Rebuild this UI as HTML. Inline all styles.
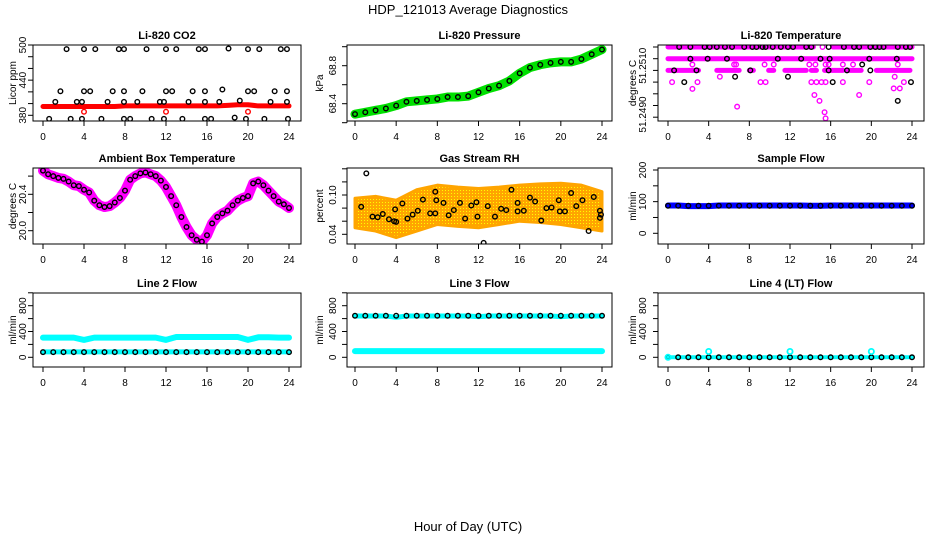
<!DOCTYPE html>
<html><head><meta charset="utf-8"><style>
html,body{margin:0;padding:0;background:#fff;}
svg{display:block;font-family:"Liberation Sans",Arial,sans-serif;}
</style></head><body>
<svg id="chart" width="936" height="540" viewBox="0 0 936 540" xmlns="http://www.w3.org/2000/svg">
<defs>
<pattern id="rhpat" width="3" height="3" patternUnits="userSpaceOnUse"><rect width="3" height="3" fill="#ffa500"/><rect x="1" y="1" width="1" height="1" fill="#ffff00"/></pattern>
</defs>
<text x="468" y="14" font-size="13" text-anchor="middle">HDP_121013  Average Diagnostics</text>
<text x="468" y="531" font-size="13" text-anchor="middle">Hour of Day (UTC)</text>
</svg>
<script>
// ---------- data ----------
const xTicks = [0,4,8,12,16,20,24];
const hourly = [0,1,2,3,4,5,6,7,8,9,10,11,12,13,14,15,16,17,18,19,20,21,22,23,24];

const co2Band = [395,395,395,395,395,395,395,395,396,396,396,396,396,396,396,396,396,396,397,398,398,396,396,396,396];
const co2CircH = [2.3,4,5.1,7.4,7.9,10.1,12,13,15.2,15.8,18.1,20,21.1,23.2,23.8, 1.7,4,4.6,6.8,7.9,9.7,12,12.6,14.6,15.8,17.5,20,20.6,22.6,23.8, 1.2,3.3,3.8,6.3,7.9,9.2,11.4,11.8,14.2,15.8,17.2,19.2,22.2,23.8, 0.6,2.7,3.8,5.7,7.9,8.5,10.6,11.8,13.6,15.8,16.4,18.7,19.8,21.6,23.9];
const co2CircV = [493,493,493,493,493,493,493,493,493,493,494,493,493,493,493, 421,421,421,421,421,421,421,421,421,421,424,421,421,421,421, 403,403,403,403,403,403,403,403,403,403,403,405,403,403, 374,374,374,374,374,374,374,374,374,374,374,376,374,374,374];
const co2RedH = [4,12,20];
const co2RedV = [386,386,386];

const presBand = [68.29,68.31,68.33,68.35,68.38,68.42,68.43,68.44,68.45,68.47,68.47,68.48,68.52,68.56,68.59,68.64,68.72,68.78,68.81,68.83,68.84,68.84,68.87,68.92,68.97];

const tempSegStart = [0,16.2,0,0,4.8,8,9.9,11.5,14.1,15.4,17.6,20.5];
const tempSegEnd   = [14.3,24,24,3,7,8.4,10.4,13.6,14.6,17.2,19,23.8];
const tempSegVal   = [51.2515,51.2515,51.2510,51.2505,51.2505,51.2505,51.2505,51.2505,51.2505,51.2505,51.2505,51.2505];
const tempMagH = [0.4,2.9,9.1,9.6,14.1,14.6,15.1,15.5,17.2,19.8,23.2, 2.4,14.4,18.8,14.9,6.8,15.4,15.5,22.2,22.8,5.1,22.3, 2.4,6.5,6.7,9.5,10.4,13.9,14.5,15.5,15.8,17.2,18.2,22.6,15.2];
const tempMagV = [51.25,51.25,51.25,51.25,51.25,51.25,51.25,51.25,51.25,51.25,51.25, 51.24971,51.24945,51.24945,51.2492,51.24895,51.24871,51.24845,51.24973,51.24973,51.25023,51.25023, 51.25075,51.25075,51.25075,51.25075,51.25075,51.25075,51.25075,51.25075,51.25075,51.25075,51.25075,51.25075,51.2515];
const tempBlkH = [1.6,16.2,23.9, 0.6,2.8,8.1,15.8,17.6,19.9, 2.2,3.9,5.8,10.8,13.1,15,15.9,19.8,22.5, 1.1,2.2,3.6,4.1,4.8,5.6,6.3,7.5,8.3,8.7,9.3,9.6,10.3,11.1,11.8,12.3,13.6,14.1,15.8,17.3,18.3,18.8,19.9,20.4,20.8,21.2,22.6,23.4,23.8, 19.1,6.6,11.8,22.6];
const tempBlkV = [51.25,51.25,51.25, 51.2505,51.2505,51.2505,51.2505,51.2505,51.2505, 51.251,51.251,51.251,51.251,51.251,51.251,51.251,51.251,51.251, 51.2515,51.2515,51.2515,51.2515,51.2515,51.2515,51.2515,51.2515,51.2515,51.2515,51.2515,51.2515,51.2515,51.2515,51.2515,51.2515,51.2515,51.2515,51.2515,51.2515,51.2515,51.2515,51.2515,51.2515,51.2515,51.2515,51.2515,51.2515,51.2515, 51.25075,51.25023,51.25023,51.2492];

const ambH = [0,0.5,1,1.5,2,2.5,3,3.5,4,4.5,5,5.5,6,6.5,7,7.5,8,8.5,9,9.5,10,10.5,11,11.5,12,12.5,13,13.5,14,14.5,15,15.5,16,16.5,17,17.5,18,18.5,19,19.5,20,20.5,21,21.5,22,22.5,23,23.5,24];
const ambV = [20.66,20.62,20.60,20.58,20.57,20.54,20.50,20.49,20.45,20.42,20.33,20.28,20.26,20.27,20.31,20.36,20.44,20.56,20.60,20.63,20.64,20.62,20.60,20.55,20.48,20.38,20.28,20.15,20.04,19.95,19.90,19.88,19.95,20.08,20.15,20.19,20.22,20.28,20.33,20.36,20.38,20.52,20.54,20.50,20.44,20.38,20.32,20.29,20.25];

const rhEnvH = [0,2,4,6,8,10,12,14,16,18,20,22,24];
const rhUpper = [0.095,0.098,0.092,0.108,0.115,0.112,0.110,0.112,0.115,0.117,0.118,0.115,0.105];
const rhLower = [0.050,0.045,0.035,0.045,0.055,0.052,0.050,0.055,0.060,0.058,0.055,0.050,0.045];
const rhH = [0.6,1.1,1.7,2.2,2.7,3.3,3.8,3.9,4,4.6,5.1,5.6,6.1,6.6,7.3,7.8,7.8,7.9,8.6,9.1,9.6,10.2,10.7,11.3,11.8,11.9,12.5,12.9,13.6,14.2,14.7,15.2,15.8,15.8,16.4,17,17.5,18.1,18.6,19.1,19.8,19.9,20.4,21,21.5,22.1,22.7,23.2,23.8,23.9,23.8];
const rhV = [0.082,0.133,0.067,0.066,0.071,0.063,0.060,0.078,0.059,0.087,0.064,0.070,0.076,0.093,0.072,0.072,0.105,0.092,0.088,0.069,0.077,0.088,0.064,0.084,0.089,0.067,0.027,0.083,0.067,0.079,0.077,0.108,0.088,0.075,0.076,0.096,0.090,0.061,0.080,0.081,0.092,0.075,0.075,0.103,0.083,0.092,0.045,0.097,0.076,0.070,0.065];

const sampleBand = [88,88,86,86,86,88,88,88,88,88,88,88,88,88,87,87,88,88,88,88,88,88,88,88,88];
const sampleCirc = [87,87,87,87,87,87,87,87,87,87,87,87,87,87,87,87,87,87,87,87,87,87,87,87,87];

const l2Upper = [305,305,305,305,270,305,305,305,305,305,305,305,270,315,315,315,315,315,315,315,270,310,310,305,305];
const l2Lower = [85,85,85,85,85,85,85,85,85,85,85,85,85,85,85,85,85,85,85,85,85,85,85,85,85];
const l2Circ = [80,80,80,80,80,80,80,80,80,80,80,80,80,80,80,80,80,80,80,80,80,80,80,80,80];

const l3Upper = [640,640,640,640,620,640,640,640,640,640,640,640,630,640,640,640,640,640,640,640,630,640,640,640,640];
const l3Lower = [95,95,95,95,95,95,95,95,95,95,95,95,95,95,95,95,95,95,95,95,95,95,95,95,95];
const l3Circ = [645,645,645,645,645,645,645,645,645,645,645,645,645,645,645,645,645,645,645,645,645,645,645,645,645];

const l4Band = [0,0,0,0,0,0,0,0,0,0,0,0,0,0,0,0,0,0,0,0,0,0,0,0,0];
const l4SpikeH = [0,4,12,20];
const l4SpikeV = [0,90,90,90];

// ---------- layout ----------
const NS = 'http://www.w3.org/2000/svg';
const svg = document.getElementById('chart');
const cols = [[33,301,43,289],[347,612,355,602],[658,924,668,912]];
const rows = [[45,121],[168,244],[293,367]];
const ylabX = [12,319,632];
const ytlX = [22,332,642];

function mk(tag, attrs){ const e=document.createElementNS(NS,tag); for(const k in attrs) e.setAttribute(k,attrs[k]); return e; }

function makePanel(id, c, r, title, ylab, va, pa, vb, pb, yt, ylabels){
  const g = mk('g',{});
  
  
  svg.appendChild(g);
  const [bx0,bx1,x0,x24]=cols[c]; const [by0,by1]=rows[r];
  const p = {g, bx0,bx1,by0,by1,
    x: h => x0 + (x24-x0)*h/24,
    y: v => pa + (pb-pa)*(v-va)/(vb-va)};
  const t = mk('text',{x:(bx0+bx1)/2, y:by0-6, 'font-size':11,'font-weight':'bold','text-anchor':'middle'});
  t.textContent = title;
  
  
  g.appendChild(t);
  const yl = mk('text',{x:0,y:0,'font-size':10,'text-anchor':'middle',transform:`translate(${ylabX[c]+4},${(by0+by1)/2}) rotate(-90)`});
  yl.textContent = ylab;
  
  
  g.appendChild(yl);
  const xa = mk('g',{stroke:'#000','stroke-width':1});
  
  
  g.appendChild(xa);
  xa.appendChild(mk('line',{x1:p.x(xTicks[0]),x2:p.x(xTicks[xTicks.length-1]),y1:by1,y2:by1}));
  xTicks.forEach(v=>{
    xa.appendChild(mk('line',{x1:p.x(v),x2:p.x(v),y1:by1,y2:by1+5}));
    const tl = mk('text',{x:p.x(v),y:by1+19,'font-size':10,'text-anchor':'middle',stroke:'none'});
    tl.textContent = v;
    
    
    xa.appendChild(tl);
  });
  const ya = mk('g',{stroke:'#000','stroke-width':1});
  
  
  g.appendChild(ya);
  ya.appendChild(mk('line',{x1:bx0,x2:bx0,y1:p.y(yt[0]),y2:p.y(yt[yt.length-1])}));
  yt.forEach(v=>{ ya.appendChild(mk('line',{x1:bx0-5,x2:bx0,y1:p.y(v),y2:p.y(v)})); });
  ylabels.forEach(([v,s,off])=>{
    const tl = mk('text',{x:0,y:0,'font-size':10,'text-anchor':'middle',stroke:'none',transform:`translate(${ytlX[c]+4},${p.y(v)+(off||0)}) rotate(-90)`});
    tl.textContent = s;
    
    
    ya.appendChild(tl);
  });
  const clip = mk('clipPath',{id:id+'-clip'});
  clip.appendChild(mk('rect',{x:bx0,y:by0,width:bx1-bx0,height:by1-by0}));
  svg.querySelector('defs').appendChild(clip);
  p.plot = mk('g',{'clip-path':`url(#${id}-clip)`});
  
  
  g.appendChild(p.plot);
  p.finish = ()=>{
    const b = mk('rect',{x:bx0,y:by0,width:bx1-bx0,height:by1-by0,fill:'none',stroke:'#000','stroke-width':1});
    
    
    g.appendChild(b);
  };
  return p;
}

function band(p, hs, vs, color, w, name){
  const pl = mk('polyline',{points:hs.map((h,i)=>p.x(h)+','+p.y(vs[i])).join(' '),fill:'none',stroke:color,'stroke-width':w,'stroke-linecap':'round','stroke-linejoin':'round'});
  
  
  p.plot.appendChild(pl);
}
function circles(p, hs, vs, color, name, r, sw){
  const gg = mk('g',{fill:'none',stroke:color,'stroke-width':sw||1.4});
  
  
  p.plot.appendChild(gg);
  hs.forEach((h,i)=>{
    const c = mk('circle',{cx:p.x(h),cy:p.y(vs[i]),r:r||2.3});
    
    
    gg.appendChild(c);
  });
}

let p = makePanel('co2',0,0,'Li-820 CO2','Licor ppm',380,115.3,500,45,[380,400,420,440,460,480,500],[[380,'380'],[440,'440'],[500,'500']]);
band(p,hourly,co2Band,'#ff0000',5,'co2-red-series');
circles(p,co2CircH,co2CircV,'#000','co2-black-series');
circles(p,co2RedH,co2RedV,'#ff0000','co2-red-points');
p.finish();

p = makePanel('pressure',1,0,'Li-820 Pressure','kPa',68.4,103.7,68.8,65.7,[68.2,68.4,68.6,68.8,69.0],[[68.4,'68.4'],[68.8,'68.8']]);
band(p,hourly,presBand,'#00e000',9,'pressure-green-series');
circles(p,hourly,presBand,'#000','pressure-black-series');
p.finish();

p = makePanel('li820-temp',2,0,'Li-820 Temperature','degrees C',51.2515,47,51.2490,105.5,[51.2485,51.249,51.2495,51.25,51.2505,51.251,51.2515],[[51.2510,'51.2510',7],[51.2490,'51.2490',9]]);
tempSegStart.forEach((s,i)=>{
  const l = mk('line',{x1:p.x(s),x2:p.x(tempSegEnd[i]),y1:p.y(tempSegVal[i]),y2:p.y(tempSegVal[i]),stroke:'#ff00ff','stroke-width':5,'stroke-linecap':'round'});
  
  
  p.plot.appendChild(l);
});
circles(p,tempMagH,tempMagV,'#ff00ff','temp-magenta-points');
circles(p,tempBlkH,tempBlkV,'#000','temp-black-points');
p.finish();

p = makePanel('ambient',0,1,'Ambient Box Temperature','degrees C',20.0,230.7,20.4,194.3,[20.0,20.2,20.4,20.6],[[20.0,'20.0'],[20.4,'20.4']]);
band(p,ambH,ambV,'#ff00ff',10,'ambient-magenta-series');
circles(p,ambH,ambV,'#000','ambient-black-series');
p.finish();

p = makePanel('rh',1,1,'Gas Stream RH','percent',0.04,234.3,0.10,195,[0.04,0.06,0.08,0.10,0.12,0.14],[[0.04,'0.04'],[0.10,'0.10']]);
{
  const pts = rhEnvH.map((h,i)=>p.x(h)+','+p.y(rhUpper[i])).concat(rhEnvH.slice().reverse().map((h,j)=>p.x(h)+','+p.y(rhLower[rhEnvH.length-1-j])));
  const poly = mk('polygon',{points:pts.join(' '),fill:'url(#rhpat)',stroke:'#ffa500','stroke-width':3,'stroke-linejoin':'round'});
  
  
  p.plot.appendChild(poly);
}
circles(p,rhH,rhV,'#000','rh-black-points');
p.finish();

p = makePanel('sample-flow',2,1,'Sample Flow','ml/min',0,233.3,200,170,[0,50,100,150,200],[[0,'0'],[100,'100'],[200,'200']]);
band(p,hourly,sampleBand,'#0000ff',6,'sample-blue-series');
circles(p,hourly,sampleCirc,'#000','sample-black-series');
p.finish();

const flowTicks=[0,200,400,600,800,1000];
const flowLabels=[[0,'0'],[400,'400'],[800,'800']];
p = makePanel('line2',0,2,'Line 2 Flow','ml/min',0,357.3,800,305.7,flowTicks,flowLabels);
band(p,hourly,l2Upper,'#00ffff',6,'line2-upper-series');
band(p,hourly,l2Lower,'#00ffff',5,'line2-lower-series');
circles(p,hourly,l2Circ,'#000','line2-black-series');
p.finish();

p = makePanel('line3',1,2,'Line 3 Flow','ml/min',0,357.3,800,305.7,flowTicks,flowLabels);
band(p,hourly,l3Upper,'#00ffff',5,'line3-upper-series');
band(p,hourly,l3Lower,'#00ffff',6,'line3-lower-series');
circles(p,hourly,l3Circ,'#000','line3-black-series');
p.finish();

p = makePanel('line4',2,2,'Line 4 (LT) Flow','ml/min',0,357.3,800,305.7,flowTicks,flowLabels);
band(p,hourly,l4Band,'#00ffff',4,'line4-cyan-series');
circles(p,hourly,l4Band,'#000','line4-black-series');
circles(p,l4SpikeH,l4SpikeV,'#00ffff','line4-cyan-spikes',2.6,1.8);
p.finish();
</script>
</body></html>
